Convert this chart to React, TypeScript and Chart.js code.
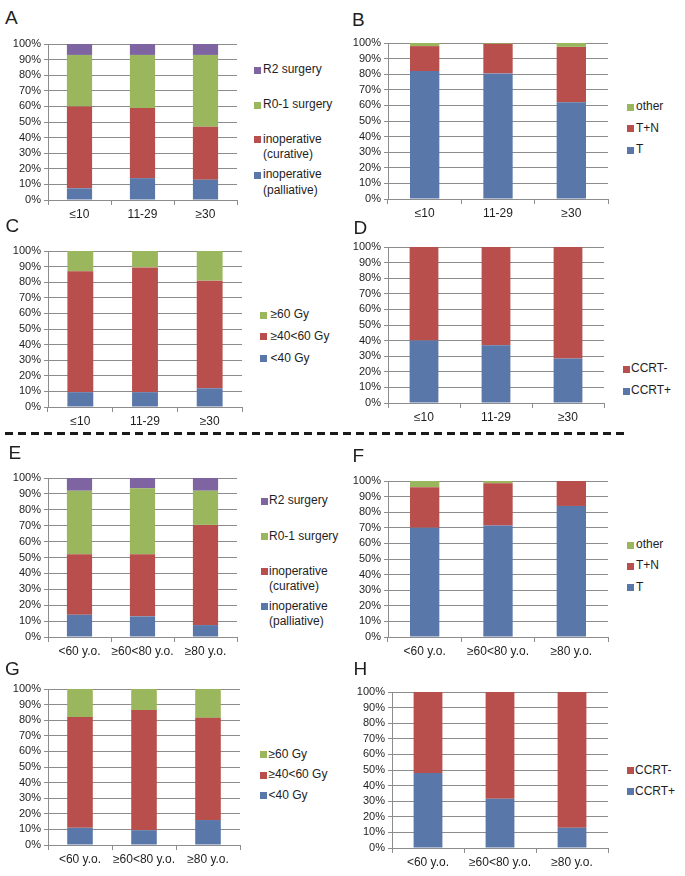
import React, { useEffect, useRef } from "react";
import { Chart, registerables } from "chart.js";

Chart.register(...registerables);

const FONT = '"Liberation Sans", Arial, Helvetica, sans-serif';
const TEXT = "#1e1e1e";
const GRID = "#8c8c8c";
const BLUE = "#5a77a9";
const RED = "#b94f4c";
const GREEN = "#9bb75e";
const PURPLE = "#7e64a0";

// categories
const sizeCategories = ["≤10", "11-29", "≥30"];
const ageCategories = ["<60 y.o.", "≥60<80 y.o.", "≥80 y.o."];

// A: treatment by size
const aPalliative = [7.5, 14, 13];
const aCurative = [52.5, 45, 34];
const aR01 = [33, 34, 46];
const aR2 = [7, 7, 7];
// B: field by size
const bT = [82, 80.5, 62];
const bTN = [16, 19, 35.5];
const bOther = [2, 0.5, 2.5];
// C: dose by size
const cLt40 = [9.5, 9.5, 12];
const cMid = [77.5, 80, 69];
const cGe60 = [13, 10.5, 19];
// D: CCRT by size
const dPlus = [40, 37, 28.5];
const dMinus = [60, 63, 71.5];
// E: treatment by age
const ePalliative = [14, 13, 7.5];
const eCurative = [38, 39, 63];
const eR01 = [40, 41.5, 21.5];
const eR2 = [8, 6.5, 8];
// F: field by age
const fT = [70, 71.5, 84];
const fTN = [26, 27, 16];
const fOther = [4, 1.5, 0];
// G: dose by age
const gLt40 = [11, 9.5, 16];
const gMid = [71, 77, 65.5];
const gGe60 = [18, 13.5, 18.5];
// H: CCRT by age
const hPlus = [48, 31.5, 13];
const hMinus = [52, 68.5, 87];

const yTickSuffix = "%";

type Series = { label: string; data: number[]; color: string };
type LegendItem = { lines: string[]; color: string; cy: number };
type PanelDef = {
  letter: string;
  letterPos: [number, number];
  rect: [number, number, number, number];
  labels: string[];
  series: Series[];
  legendSq: number;
  legendText: number;
  legend: LegendItem[];
};

const treatA = (pal: number[], cur: number[], r01: number[], r2: number[]): Series[] => [
  { label: "inoperative (palliative)", data: pal, color: BLUE },
  { label: "inoperative (curative)", data: cur, color: RED },
  { label: "R0-1 surgery", data: r01, color: GREEN },
  { label: "R2 surgery", data: r2, color: PURPLE },
];
const fieldS = (t: number[], tn: number[], o: number[]): Series[] => [
  { label: "T", data: t, color: BLUE },
  { label: "T+N", data: tn, color: RED },
  { label: "other", data: o, color: GREEN },
];
const doseS = (a: number[], b: number[], c: number[]): Series[] => [
  { label: "<40 Gy", data: a, color: BLUE },
  { label: "≥40<60 Gy", data: b, color: RED },
  { label: "≥60 Gy", data: c, color: GREEN },
];
const ccrtS = (p: number[], m: number[]): Series[] => [
  { label: "CCRT+", data: p, color: BLUE },
  { label: "CCRT-", data: m, color: RED },
];

const panels: PanelDef[] = [
  {
    letter: "A", letterPos: [5, 7.5], rect: [48, 44, 237, 200], labels: sizeCategories,
    series: treatA(aPalliative, aCurative, aR01, aR2), legendSq: 254, legendText: 263,
    legend: [
      { lines: ["R2 surgery"], color: PURPLE, cy: 70 },
      { lines: ["R0-1 surgery"], color: GREEN, cy: 105 },
      { lines: ["inoperative", "(curative)"], color: RED, cy: 139.5 },
      { lines: ["inoperative", "(palliative)"], color: BLUE, cy: 175 },
    ],
  },
  {
    letter: "B", letterPos: [352, 10], rect: [388, 43, 608, 199], labels: sizeCategories,
    series: fieldS(bT, bTN, bOther), legendSq: 627, legendText: 636,
    legend: [
      { lines: ["other"], color: GREEN, cy: 107 },
      { lines: ["T+N"], color: RED, cy: 128.5 },
      { lines: ["T"], color: BLUE, cy: 150 },
    ],
  },
  {
    letter: "C", letterPos: [5.5, 215.8], rect: [48, 251, 242, 407], labels: sizeCategories,
    series: doseS(cLt40, cMid, cGe60), legendSq: 260, legendText: 270.5,
    legend: [
      { lines: ["≥60 Gy"], color: GREEN, cy: 315 },
      { lines: ["≥40<60 Gy"], color: RED, cy: 336.7 },
      { lines: ["<40 Gy"], color: BLUE, cy: 358.3 },
    ],
  },
  {
    letter: "D", letterPos: [353.5, 217.5], rect: [388, 247, 604, 403], labels: sizeCategories,
    series: ccrtS(dPlus, dMinus), legendSq: 623, legendText: 631,
    legend: [
      { lines: ["CCRT-"], color: RED, cy: 369 },
      { lines: ["CCRT+"], color: BLUE, cy: 391 },
    ],
  },
  {
    letter: "E", letterPos: [8.5, 442.5], rect: [48, 478, 237, 637], labels: ageCategories,
    series: treatA(ePalliative, eCurative, eR01, eR2), legendSq: 261, legendText: 269,
    legend: [
      { lines: ["R2 surgery"], color: PURPLE, cy: 501 },
      { lines: ["R0-1 surgery"], color: GREEN, cy: 536.7 },
      { lines: ["inoperative", "(curative)"], color: RED, cy: 571.7 },
      { lines: ["inoperative", "(palliative)"], color: BLUE, cy: 606.7 },
    ],
  },
  {
    letter: "F", letterPos: [352.5, 445.8], rect: [388, 481, 608, 637], labels: ageCategories,
    series: fieldS(fT, fTN, fOther), legendSq: 627, legendText: 636,
    legend: [
      { lines: ["other"], color: GREEN, cy: 545 },
      { lines: ["T+N"], color: RED, cy: 566 },
      { lines: ["T"], color: BLUE, cy: 587.3 },
    ],
  },
  {
    letter: "G", letterPos: [5, 659], rect: [48, 689, 240, 845], labels: ageCategories,
    series: doseS(gLt40, gMid, gGe60), legendSq: 260, legendText: 268.5,
    legend: [
      { lines: ["≥60 Gy"], color: GREEN, cy: 754.3 },
      { lines: ["≥40<60 Gy"], color: RED, cy: 775 },
      { lines: ["<40 Gy"], color: BLUE, cy: 795.7 },
    ],
  },
  {
    letter: "H", letterPos: [353.5, 659], rect: [392, 692, 608, 848], labels: ageCategories,
    series: ccrtS(hPlus, hMinus), legendSq: 627, legendText: 635,
    legend: [
      { lines: ["CCRT-"], color: RED, cy: 770.7 },
      { lines: ["CCRT+"], color: BLUE, cy: 791.7 },
    ],
  },
];

const AXIS_W = 48;
const AXIS_H = 28;
const PAD_T = 10;
const PAD_R = 6;

function Panel({ p }: { p: PanelDef }) {
  const ref = useRef<HTMLCanvasElement>(null);
  const [l, t, r, b] = p.rect;
  const cw = r - l + AXIS_W + PAD_R;
  const ch = b - t + PAD_T + AXIS_H;

  useEffect(() => {
    if (!ref.current) return;
    const chart = new Chart(ref.current, {
      type: "bar",
      data: {
        labels: p.labels,
        datasets: p.series.map((s) => ({
          label: s.label,
          data: s.data,
          backgroundColor: s.color,
          borderWidth: 0,
          barPercentage: 0.4,
          categoryPercentage: 1,
        })),
      },
      options: {
        responsive: false,
        animation: false,
        devicePixelRatio: 1,
        layout: { padding: { top: PAD_T, left: 0, right: PAD_R, bottom: 0 } },
        plugins: { legend: { display: false }, tooltip: { enabled: false } },
        scales: {
          x: {
            stacked: true,
            grid: {
              display: true,
              offset: true,
              drawOnChartArea: false,
              drawTicks: true,
              tickLength: 5,
              color: GRID,
            },
            border: { display: true, color: GRID },
            ticks: {
              color: TEXT,
              font: { family: FONT, size: 12 },
              padding: 2,
              maxRotation: 0,
              autoSkip: false,
            },
            afterFit: (s: any) => {
              s.height = AXIS_H;
            },
          },
          y: {
            stacked: true,
            min: 0,
            max: 100,
            ticks: {
              stepSize: 10,
              autoSkip: false,
              color: TEXT,
              font: { family: FONT, size: 11 },
              padding: 3,
              callback: (v: any) => v + yTickSuffix,
            },
            grid: { color: GRID, tickLength: 4 },
            border: { display: true, color: GRID },
            afterFit: (s: any) => {
              s.width = AXIS_W;
            },
          },
        },
      },
    } as any);
    return () => chart.destroy();
  }, []);

  return (
    <>
      <canvas
        ref={ref}
        width={cw}
        height={ch}
        style={{ position: "absolute", left: l - AXIS_W, top: t - PAD_T, width: cw, height: ch }}
      />
      <div
        style={{
          position: "absolute",
          left: p.letterPos[0],
          top: p.letterPos[1],
          fontFamily: FONT,
          fontSize: 19,
          lineHeight: "19px",
          color: TEXT,
        }}
      >
        {p.letter}
      </div>
      {p.legend.map((it, i) => (
        <React.Fragment key={i}>
          <div
            style={{
              position: "absolute",
              left: p.legendSq,
              top: it.cy - 3.5,
              width: 7,
              height: 7,
              background: it.color,
            }}
          />
          <div
            style={{
              position: "absolute",
              left: p.legendText,
              top: it.cy - 7.75,
              fontFamily: FONT,
              fontSize: 12,
              lineHeight: "15.5px",
              color: TEXT,
              whiteSpace: "nowrap",
            }}
          >
            {it.lines.map((ln, j) => (
              <div key={j}>{ln}</div>
            ))}
          </div>
        </React.Fragment>
      ))}
    </>
  );
}

export default function App() {
  return (
    <div
      style={{
        position: "absolute",
        left: 0,
        top: 0,
        width: 685,
        height: 876,
        background: "#fff",
        overflow: "hidden",
      }}
    >
      {panels.map((p) => (
        <Panel key={p.letter} p={p} />
      ))}
      <div
        style={{
          position: "absolute",
          left: 5,
          top: 432,
          width: 621,
          height: 3,
          background: "repeating-linear-gradient(to right, #1a1a1a 0px, #1a1a1a 8px, transparent 8px, transparent 13px)",
        }}
      />
    </div>
  );
}
